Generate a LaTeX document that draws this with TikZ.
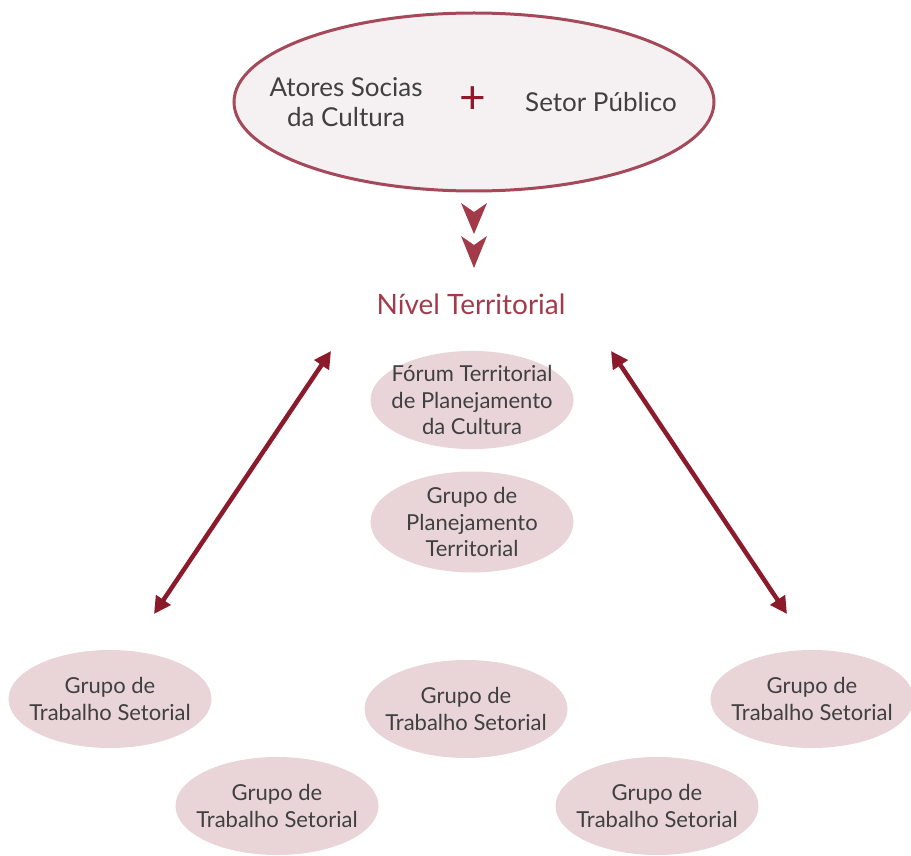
\documentclass[tikz,border=0pt]{standalone}
\usepackage{fontspec}
\setmainfont{Lato}
\usetikzlibrary{arrows.meta,shapes.geometric}
\definecolor{txt}{HTML}{404040}
\definecolor{wine}{HTML}{8B1A2B}
\definecolor{rim}{HTML}{A4485A}
\definecolor{pale}{HTML}{F5F0F1}
\definecolor{rose}{HTML}{E9D4D7}
\definecolor{chev}{HTML}{A23A4A}
\definecolor{title}{HTML}{A33A4B}
\tikzset{
  blob/.style={ellipse, fill=rose, draw=none, inner xsep=-20pt, inner ysep=0pt, minimum width=203pt, minimum height=98pt, text=txt, align=center, font=\fontsize{22}{26.5}\selectfont},
  link/.style={wine, line width=4.5pt, {Triangle[length=17pt,width=17pt]}-{Triangle[length=17pt,width=17pt]}},
}
\begin{document}
\begin{tikzpicture}[x=1pt,y=-1pt]
\useasboundingbox (0,0) rectangle (911,856);
% top ellipse
\node[ellipse, fill=pale, draw=rim, line width=3pt, minimum width=480pt, minimum height=178pt, inner sep=0pt] (top) at (474,102) {};
\node[text=txt, align=center, font=\fontsize{26}{30}\selectfont] (actors) at (346,102) {Atores Socias\\da Cultura};
\node[text=wine, font=\fontsize{46}{46}\selectfont] (plus) at (473,100) {+};
\node[text=txt, font=\fontsize{26}{30}\selectfont] (setor) at (601,102) {Setor Público};
% chevrons
\fill[chev] (461,203) -- (474,212) -- (487,203) -- (474,234) -- cycle;
\fill[chev] (461,236) -- (474,245) -- (487,236) -- (474,268) -- cycle;
% title
\node[text=title, font=\fontsize{28}{32}\selectfont] (nivel) at (471,304) {Nível Territorial};
% middle ellipses
\node[blob, minimum height=95pt] (forum) at (472,400) {Fórum Territorial\\de Planejamento\\da Cultura};
\node[blob, minimum height=101pt] (gpt) at (472,522) {Grupo de\\Planejamento\\Territorial};
% bottom ellipses
\node[blob] (g1) at (110,699) {Grupo de\\Trabalho Setorial};
\node[blob] (g2) at (466,709) {Grupo de\\Trabalho Setorial};
\node[blob] (g3) at (812,699) {Grupo de\\Trabalho Setorial};
\node[blob] (g4) at (277,806) {Grupo de\\Trabalho Setorial};
\node[blob] (g5) at (657,806) {Grupo de\\Trabalho Setorial};
% arrows
\coordinate (la) at (154,614);
\coordinate (lb) at (331,351);
\coordinate (ra) at (611,351);
\coordinate (rb) at (787,614);
\draw[link] (la) -- (lb);
\draw[link] (ra) -- (rb);
\end{tikzpicture}
\end{document}
